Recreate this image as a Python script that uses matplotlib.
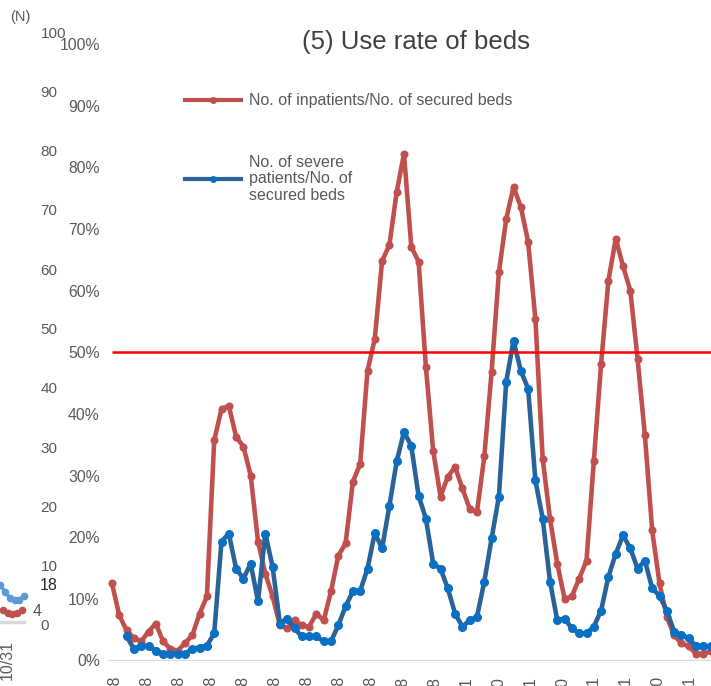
import matplotlib
matplotlib.use('Agg')
import matplotlib.pyplot as plt
import numpy as np

# Use rate of beds (%), one value per report
inpatient_rate = [12.5, 7.3, 4.9, 3.6, 3.1, 4.7, 6.0, 3.1, 1.9, 1.6,
                  2.8, 4.1, 7.6, 10.4, 35.7, 40.8, 41.3, 36.3, 34.7, 30.0,
                  19.3, 14.1, 10.4, 5.7, 5.2, 6.5, 5.7, 5.5, 7.6, 6.5,
                  11.2, 17.0, 19.0, 29.0, 31.9, 47.0, 52.2, 64.8, 67.4, 76.0,
                  82.2, 67.1, 64.7, 47.6, 34.0, 26.6, 29.8, 31.4, 27.9, 24.6,
                  24.1, 33.1, 46.8, 63.0, 71.6, 76.8, 73.6, 67.9, 55.4, 32.7,
                  23.0, 15.7, 10.0, 10.4, 13.3, 16.2, 32.3, 48.1, 61.6, 68.4,
                  64.0, 60.0, 48.9, 36.5, 21.1, 12.5, 7.1, 4.1, 2.8, 2.3,
                  1.1, 1.1, 1.5]
severe_rate = [np.nan, np.nan, 3.9, 1.9, 2.4, 2.4, 1.6, 1.1, 1.1, 1.1,
               1.1, 1.9, 2.1, 2.4, 4.4, 19.3, 20.6, 14.9, 13.3, 15.7,
               9.6, 20.6, 15.2, 6.0, 6.8, 5.2, 3.9, 3.9, 3.9, 3.1,
               3.1, 5.7, 8.8, 11.2, 11.3, 14.9, 20.7, 18.2, 25.1, 32.3,
               37.1, 34.8, 26.7, 23.0, 15.7, 14.9, 11.7, 7.6, 5.5, 6.5,
               7.1, 12.8, 19.8, 26.6, 45.2, 51.9, 47.0, 44.1, 29.2, 23.0,
               12.8, 6.5, 6.8, 5.2, 4.4, 4.4, 5.5, 8.1, 13.6, 17.3,
               20.3, 18.2, 14.9, 16.2, 11.7, 10.5, 8.1, 4.7, 4.1, 3.6,
               2.3, 2.3, 2.3]
date_labels = ['4/8', '4/28', '5/18', '6/8', '6/28', '7/18', '8/8', '8/28',
               '9/18', '10/8', '10/28', '11/21', '12/10', '12/31', '1/20',
               '2/11', '3/11', '3/30', '4/21']
threshold = 50

# bit of a neighbouring chart that shows at the left edge
frag_severe = [37, 30, 24, 22, 22, 26]
frag_inpatient = [12, 9, 8, 9, 12]
frag_labels = ['18', '4']
frag_date = '10/31'

W, H = 711, 686
NARROW = ['Liberation Sans Narrow', 'Liberation Sans', 'DejaVu Sans']
GRAY = '#595959'


def box(l, t, r, b):
    return [l / W, 1 - b / H, (r - l) / W, (b - t) / H]


fig = plt.figure(figsize=(W / 100, H / 100), dpi=100)
fig.patch.set_facecolor('white')

# main chart
ax = fig.add_axes(box(108, 44, 711, 660.5))
x = np.arange(len(inpatient_rate))
ax.plot(x, inpatient_rate, '-o', color='#C0504D', lw=3.3, ms=4.8,
        solid_joinstyle='round', clip_on=False, zorder=3)
ax.plot(x, severe_rate, '-', color='#2A6399', lw=3.3,
        solid_joinstyle='round', clip_on=False, zorder=4)
ax.plot(x, severe_rate, 'o', color='#0A70C4', ms=5.5, clip_on=False, zorder=5)
ax.hlines(threshold, 0, 90, color='#FF0000', lw=1.8, zorder=6)
ax.axhline(0, color='#D9D9D9', lw=2.5, zorder=1)
ax.set_xlim(-4 / 7.3, 599 / 7.3)
ax.set_ylim(0, 100)
for s in ax.spines.values():
    s.set_visible(False)
ax.set_yticks(range(0, 101, 10))
ax.set_yticklabels([f'{v}%' for v in range(0, 101, 10)],
                   family=NARROW, fontsize=11.3, color=GRAY)
ax.tick_params(axis='y', length=0, pad=6)
ticks = 0.48 + 4.37 * np.arange(len(date_labels))
ax.set_xticks(ticks)
ax.set_xticklabels(date_labels, rotation=90, family=NARROW, fontsize=11.5,
                   color=GRAY, va='top', ha='center')
ax.tick_params(axis='x', length=0, pad=11)

# number scale on the far left
axn = fig.add_axes(box(30, 32, 31, 625))
axn.set_ylim(0, 100)
axn.set_xticks([])
for s in axn.spines.values():
    s.set_visible(False)
axn.yaxis.tick_right()
axn.set_yticks(range(0, 101, 10))
axn.set_yticklabels([str(v) for v in range(0, 101, 10)],
                    family=NARROW, fontsize=11, color=GRAY)
axn.tick_params(axis='y', length=0, pad=7)
axn.patch.set_alpha(0)
fig.text(10 / W, 1 - 17 / H, '(N)', fontsize=10.5, color=GRAY,
         family='Liberation Sans', ha='left', va='center')

# fragment
axf = fig.add_axes(box(0, 560, 30, 622))
axf.set_xlim(-0.1, 6.3)
axf.set_ylim(0, 62)
axf.axis('off')
axf.plot([-0.1, 5.0], [0, 0], color='#D9D9D9', lw=2.5, clip_on=False)
xb = np.arange(len(frag_severe))
axf.plot(xb, frag_severe, '-o', color='#5B9BD5', lw=2.5, ms=4.5, clip_on=False)
xr = np.arange(len(frag_inpatient)) + 0.55
axf.plot(xr, frag_inpatient, '-o', color='#C0504D', lw=2.5, ms=4.5, clip_on=False)
axf.annotate(frag_labels[0], (xb[-1], frag_severe[-1]), xytext=(16, 11),
             textcoords='offset pixels', ha='left', va='center',
             family=NARROW, fontsize=11.5, color='#262626')
axf.annotate(frag_labels[1], (xr[-1], frag_inpatient[-1]), xytext=(11, -1),
             textcoords='offset pixels', ha='left', va='center',
             family=NARROW, fontsize=11.5, color=GRAY)
fig.text(7 / W, 1 - 640 / H, frag_date, rotation=90, ha='center', va='top',
         family=NARROW, fontsize=11.5, color=GRAY)

# title
fig.text(416 / W, 1 - 42 / H, '(5) Use rate of beds', fontsize=18.5,
         color='#404040', family='Liberation Sans', ha='center', va='center')

# legend, two separate entries
h1, = ax.plot([], [], '-o', color='#C0504D', lw=3, ms=4)
h2, = ax.plot([], [], '-o', color='#2A6399', mfc='#0A70C4', mec='#0A70C4', lw=3, ms=4)
leg_kw = dict(loc='center left', frameon=False, borderpad=0, borderaxespad=0,
              handlelength=3.5, handletextpad=0.5,
              prop={'family': 'Liberation Sans', 'size': 11.5})
leg1 = fig.legend([h1], ['No. of inpatients/No. of secured beds'],
                  bbox_to_anchor=(185 / W, 1 - 101 / H), **leg_kw)
leg2 = fig.legend([h2], ['No. of severe\npatients/No. of\nsecured beds'],
                  bbox_to_anchor=(185 / W, 1 - 179 / H), **leg_kw)
for lg in (leg1, leg2):
    for t in lg.get_texts():
        t.set_color(GRAY)
        t.set_linespacing(1.15)

fig.savefig('out.png', dpi=100)
